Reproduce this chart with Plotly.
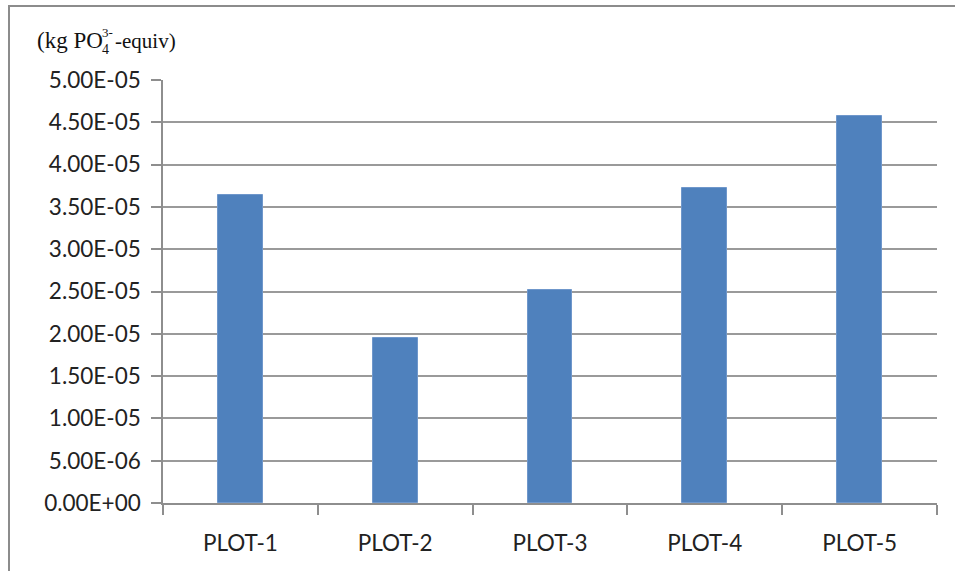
import plotly.graph_objects as go

# Eutrophication potential per plot
categories = ["PLOT-1", "PLOT-2", "PLOT-3", "PLOT-4", "PLOT-5"]
values = [3.64e-5, 1.95e-5, 2.52e-5, 3.72e-5, 4.57e-5]

y_tickvals = [0, 5e-6, 1e-5, 1.5e-5, 2e-5, 2.5e-5, 3e-5, 3.5e-5, 4e-5, 4.5e-5, 5e-5]
y_ticktext = ["0.00E+00", "5.00E-06", "1.00E-05", "1.50E-05", "2.00E-05", "2.50E-05",
              "3.00E-05", "3.50E-05", "4.00E-05", "4.50E-05", "5.00E-05"]

W, H = 955, 571
L, R, T, B = 163, 18, 80, 68

fig = go.Figure(
    go.Bar(
        x=categories,
        y=values,
        marker=dict(color="#4F81BD", line=dict(color="#6F97CB", width=1)),
        width=0.29,
    )
)

def px_x(p):
    return (p - L) / (W - L - R)

def px_y(p):
    return 1 - (p - T) / (H - T - B)

y_font = dict(family="Lato, Open Sans, sans-serif", size=22.5, color="#222222")
x_font = dict(family="Lato, Open Sans, sans-serif", size=22.5, color="#222222")
unit_font = dict(family="Liberation Serif, Times New Roman, serif", color="#111111")

annotations = [
    dict(text="(kg PO", x=px_x(35), y=px_y(41), xref="paper", yref="paper",
         xanchor="left", yanchor="middle", showarrow=False, font=dict(size=23, **unit_font)),
    dict(text="3-", x=px_x(100), y=px_y(32), xref="paper", yref="paper",
         xanchor="left", yanchor="middle", showarrow=False, font=dict(size=13, **unit_font)),
    dict(text="4", x=px_x(100), y=px_y(50), xref="paper", yref="paper",
         xanchor="left", yanchor="middle", showarrow=False, font=dict(size=14, **unit_font)),
    dict(text="-equiv)", x=px_x(113), y=px_y(41), xref="paper", yref="paper",
         xanchor="left", yanchor="middle", showarrow=False, font=dict(size=21, **unit_font)),
]

shapes = [
    dict(type="rect", xref="paper", yref="paper",
         x0=px_x(9), x1=px_x(W + 20), y0=px_y(6), y1=px_y(H + 20),
         line=dict(color="#8c8c8c", width=2), fillcolor="rgba(0,0,0,0)", layer="below"),
]

fig.update_layout(
    width=W, height=H,
    margin=dict(l=L, r=R, t=T, b=B, pad=0),
    paper_bgcolor="white",
    plot_bgcolor="white",
    showlegend=False,
    bargap=0,
    annotations=annotations,
    shapes=shapes,
    xaxis=dict(
        type="category",
        showgrid=False,
        showline=True, linecolor="#8e8e8e", linewidth=1.5,
        ticks="outside", ticklen=10, tickcolor="#8e8e8e", tickwidth=1.5,
        tickson="boundaries",
        tickfont=x_font,
        ticklabelstandoff=19,
    ),
    yaxis=dict(
        range=[0, 5e-5],
        tickvals=y_tickvals,
        ticktext=y_ticktext,
        showgrid=True, gridcolor="#9a9a9a", gridwidth=1.5,
        showline=True, linecolor="#8e8e8e", linewidth=1.5,
        ticks="outside", ticklen=10, tickcolor="#8e8e8e", tickwidth=1.5,
        tickfont=y_font,
        ticklabelstandoff=6,
        zeroline=False,
    ),
)

fig.write_html("out.html")
